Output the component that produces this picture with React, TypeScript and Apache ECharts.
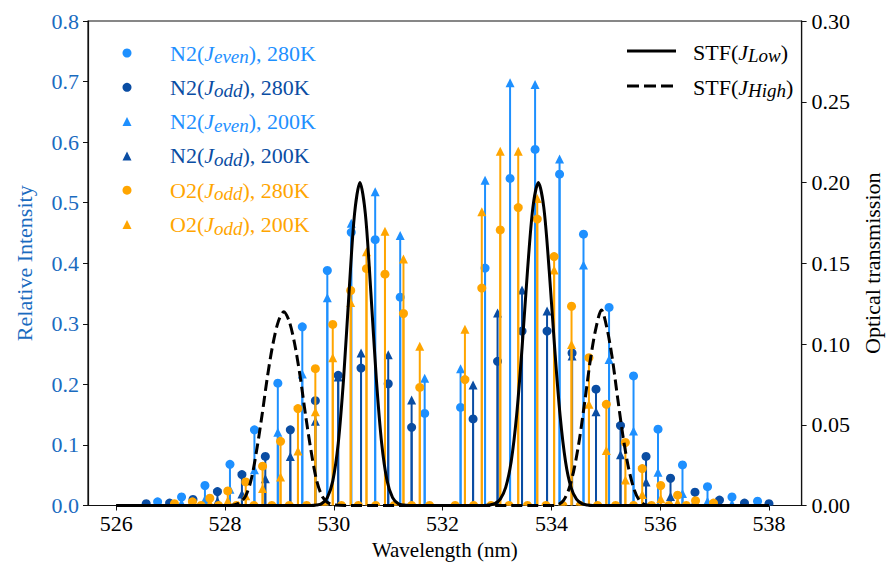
import React, { useEffect, useRef } from 'react';
import * as echarts from 'echarts';

const FONT = 'Liberation Serif';
const C_LIGHT = '#1E90FF';
const C_DARK = '#0A4DA3';
const C_ORANGE = '#FFA500';
const C_AXIS_BLUE = '#1a6bbf';

const xTicks = [526, 528, 530, 532, 534, 536, 538];

// N2, even J  (wavelength nm, 280 K, 200 K)
const n2EvenWl = [526.76, 527.2, 527.63, 528.09, 528.54, 528.97, 529.42, 529.88, 530.32, 530.76, 531.22, 531.67,
  532.33, 532.78, 533.24, 533.7, 534.15, 534.59, 535.06, 535.51, 535.96, 536.41, 536.87, 537.32, 537.79];
const n2Even280 = [0.006, 0.014, 0.033, 0.068, 0.125, 0.202, 0.295, 0.388, 0.451, 0.439, 0.344, 0.152,
  0.162, 0.392, 0.54, 0.588, 0.547, 0.448, 0.327, 0.214, 0.126, 0.067, 0.031, 0.014, 0.007];
const n2Even200 = [0.001, 0.004, 0.01, 0.027, 0.059, 0.121, 0.217, 0.343, 0.466, 0.518, 0.446, 0.21,
  0.226, 0.537, 0.698, 0.695, 0.572, 0.397, 0.241, 0.123, 0.055, 0.02, 0.007, 0.003, 0.001];

// N2, odd J
const n2OddWl = [526.55, 526.98, 527.41, 527.86, 528.31, 528.74, 529.2, 529.66, 530.08, 530.5, 531.0, 531.43,
  532.56, 533.01, 533.46, 533.92, 534.38, 534.82, 535.27, 535.74, 536.19, 536.64, 537.09, 537.55, 538.0];
const n2Odd280 = [0.003, 0.004, 0.01, 0.023, 0.051, 0.081, 0.125, 0.173, 0.215, 0.227, 0.201, 0.129,
  0.143, 0.238, 0.288, 0.288, 0.252, 0.192, 0.132, 0.081, 0.045, 0.022, 0.009, 0.004, 0.003];
const n2Odd200 = [0.0, 0.001, 0.002, 0.007, 0.019, 0.044, 0.081, 0.139, 0.212, 0.252, 0.249, 0.174,
  0.199, 0.318, 0.356, 0.321, 0.247, 0.155, 0.084, 0.039, 0.015, 0.007, 0.002, 0.001, 0.0];

// O2 (odd J lines; even J positions carry zero intensity)
const o2Wl = [527.07, 527.4, 527.56, 527.72, 527.88, 528.05, 528.21, 528.38, 528.53, 528.69, 528.86, 529.02, 529.18,
  529.34, 529.5, 529.66, 529.82, 529.98, 530.14, 530.31, 530.45, 530.6, 530.77, 530.94, 531.11, 531.28, 531.43,
  531.58, 531.76, 532.23, 532.41, 532.57, 532.72, 532.89, 533.06, 533.22, 533.39, 533.56, 533.74, 533.9, 534.05,
  534.21, 534.37, 534.53, 534.69, 534.85, 535.01, 535.18, 535.36, 535.51, 535.67, 535.84, 536.01, 536.16, 536.32,
  536.48, 536.65, 536.98];
const o2Val280 = [0.003, 0.006, 0, 0.012, 0, 0.024, 0, 0.039, 0, 0.065, 0, 0.106, 0,
  0.16, 0, 0.226, 0, 0.299, 0, 0.355, 0, 0.391, 0, 0.382, 0, 0.317, 0,
  0.195, 0, 0, 0.208, 0, 0.359, 0, 0.455, 0, 0.492, 0, 0.473, 0, 0.411,
  0, 0.329, 0, 0.244, 0, 0.167, 0, 0.104, 0, 0.061, 0, 0.033, 0, 0.017,
  0, 0.008, 0.004];
const o2Val200 = [0.001, 0.002, 0, 0.004, 0, 0.008, 0, 0.016, 0, 0.028, 0, 0.047, 0,
  0.09, 0, 0.155, 0, 0.244, 0, 0.335, 0, 0.419, 0, 0.453, 0, 0.407, 0,
  0.263, 0, 0, 0.291, 0, 0.485, 0, 0.585, 0, 0.585, 0, 0.507, 0, 0.389,
  0, 0.266, 0, 0.167, 0, 0.091, 0, 0.042, 0, 0.018, 0, 0.011, 0, 0.005,
  0, 0.002, 0.001];

// Spectral transmission functions (right axis)
const stfLowWl = [526.0, 529.4, 529.58, 529.68, 529.78, 529.88, 529.98, 530.08, 530.18, 530.28, 530.38, 530.48,
  530.58, 530.68, 530.78, 530.88, 530.98, 531.08, 531.18, 531.28, 531.38, 531.6, 532.6, 532.76, 532.86, 532.96,
  533.06, 533.16, 533.26, 533.36, 533.46, 533.56, 533.66, 533.76, 533.86, 533.96, 534.06, 534.16, 534.26, 534.36,
  534.46, 534.56, 534.66, 534.76, 535.0, 538.0];
const stfLowVal = [0, 0, 0, 0.0003, 0.0013, 0.0049, 0.0151, 0.0383, 0.0789, 0.1323, 0.1804, 0.2,
  0.1804, 0.1323, 0.0789, 0.0383, 0.0151, 0.0049, 0.0013, 0.0003, 0, 0, 0, 0, 0.0003, 0.0012,
  0.004, 0.0112, 0.0271, 0.0556, 0.0974, 0.1452, 0.1846, 0.2, 0.1846, 0.1452, 0.0974, 0.0556, 0.0271, 0.0112,
  0.004, 0.0012, 0.0003, 0, 0, 0];
const stfHighWl = [526.0, 527.9, 528.08, 528.18, 528.28, 528.38, 528.48, 528.58, 528.68, 528.78, 528.88, 528.98,
  529.08, 529.18, 529.28, 529.38, 529.48, 529.58, 529.68, 529.78, 529.88, 529.98, 530.2, 533.8, 534.02, 534.12,
  534.22, 534.32, 534.42, 534.52, 534.62, 534.72, 534.82, 534.92, 535.02, 535.12, 535.22, 535.32, 535.42, 535.52,
  535.62, 535.72, 535.82, 536.0, 538.0];
const stfHighVal = [0, 0, 0, 0.0005, 0.002, 0.006, 0.016, 0.034, 0.056, 0.08, 0.1, 0.114,
  0.12, 0.114, 0.1, 0.08, 0.056, 0.034, 0.016, 0.006, 0.002, 0.0005, 0, 0, 0, 0.0005,
  0.003, 0.01, 0.023, 0.042, 0.066, 0.091, 0.11, 0.121, 0.11, 0.091, 0.066, 0.042, 0.023, 0.01,
  0.003, 0.0005, 0, 0, 0];

function stemSeries(name: string, wl: number[], vals: number[], color: string, marker: 'circle' | 'triangle') {
  return {
    type: 'custom',
    name,
    xAxisIndex: 0,
    yAxisIndex: 0,
    clip: true,
    data: wl.map((w, i) => [w, vals[i]]),
    encode: { x: 0, y: 1 },
    renderItem: (params: any, api: any) => {
      const w = api.value(0);
      const v = api.value(1);
      const base = api.coord([w, 0]);
      const top = api.coord([w, v]);
      const children: any[] = [
        {
          type: 'line',
          shape: { x1: base[0], y1: base[1], x2: top[0], y2: top[1] },
          style: { stroke: color, lineWidth: 2 },
        },
      ];
      if (marker === 'circle') {
        children.push({ type: 'circle', shape: { cx: top[0], cy: top[1], r: 4.5 }, style: { fill: color } });
      } else {
        const s = 4.5;
        children.push({
          type: 'polygon',
          shape: { points: [[top[0], top[1] - s], [top[0] - s, top[1] + s], [top[0] + s, top[1] + s]] },
          style: { fill: color },
        });
      }
      return { type: 'group', children };
    },
  };
}

function richLabel(color: string, size = 22, sub = 19) {
  return {
    n: { fontFamily: FONT, fontSize: size, fill: color, lineHeight: 26, verticalAlign: 'middle' },
    j: { fontFamily: FONT, fontSize: size, fontStyle: 'italic', fill: color, lineHeight: 26, verticalAlign: 'middle' },
    s: { fontFamily: FONT, fontSize: sub, fontStyle: 'italic', fill: color, lineHeight: 15, verticalAlign: 'bottom' },
  };
}

const legendLeft = [
  { text: '{n|N2(}{j|J}{s|even}{n|), 280K}', color: C_LIGHT, marker: 'circle' },
  { text: '{n|N2(}{j|J}{s|odd}{n|), 280K}', color: C_DARK, marker: 'circle' },
  { text: '{n|N2(}{j|J}{s|even}{n|), 200K}', color: C_LIGHT, marker: 'triangle' },
  { text: '{n|N2(}{j|J}{s|odd}{n|), 200K}', color: C_DARK, marker: 'triangle' },
  { text: '{n|O2(}{j|J}{s|odd}{n|), 280K}', color: C_ORANGE, marker: 'circle' },
  { text: '{n|O2(}{j|J}{s|odd}{n|), 200K}', color: C_ORANGE, marker: 'triangle' },
];
const legendRight = [
  { text: '{n|STF(}{j|J}{s|Low}{n|)}', dash: false },
  { text: '{n|STF(}{j|J}{s|High}{n|)}', dash: true },
];

export default function App() {
  const ref = useRef<HTMLDivElement>(null);
  useEffect(() => {
    if (!ref.current) return;
    const chart = echarts.init(ref.current, undefined, { renderer: 'svg' });

    const graphics: any[] = [];
    legendLeft.forEach((row, i) => {
      const cy = 53 + i * 34.3;
      if (row.marker === 'circle') {
        graphics.push({ type: 'circle', shape: { cx: 127, cy, r: 4.5 }, style: { fill: row.color }, z: 100 });
      } else {
        graphics.push({
          type: 'polygon',
          shape: { points: [[127, cy - 4.5], [122.5, cy + 4.5], [131.5, cy + 4.5]] },
          style: { fill: row.color },
          z: 100,
        });
      }
      graphics.push({
        type: 'text',
        x: 170,
        y: cy,
        z: 100,
        style: { text: row.text, rich: richLabel(row.color), verticalAlign: 'middle', align: 'left' },
      });
    });
    legendRight.forEach((row, i) => {
      const cy = 51 + i * 35;
      graphics.push({
        type: 'line',
        shape: { x1: 627, y1: cy, x2: 676, y2: cy },
        style: { stroke: '#000', lineWidth: 3, lineDash: row.dash ? [12, 5] : null },
        z: 100,
      });
      graphics.push({
        type: 'text',
        x: 693,
        y: cy + 1,
        z: 100,
        style: { text: row.text, rich: richLabel('#000'), verticalAlign: 'middle', align: 'left' },
      });
    });

    const option: any = {
      animation: false,
      backgroundColor: '#fff',
      textStyle: { fontFamily: FONT },
      grid: { left: 88, right: 78, top: 21, bottom: 60.5, show: true, borderColor: '#111', borderWidth: 1.2, containLabel: false },
      xAxis: {
        type: 'value',
        min: 525.48,
        max: 538.6,
        name: 'Wavelength (nm)',
        nameLocation: 'middle',
        nameGap: 33,
        nameTextStyle: { fontFamily: FONT, fontSize: 21, color: '#000' },
        axisLine: { show: true, lineStyle: { color: '#111', width: 1.2 } },
        axisTick: { show: true, inside: false, length: 5, customValues: xTicks, lineStyle: { color: '#111' } },
        axisLabel: { customValues: xTicks, fontFamily: FONT, fontSize: 22, color: '#000', margin: 7, formatter: (v: number) => String(v) },
        splitLine: { show: false },
      },
      yAxis: [
        {
          type: 'value',
          min: 0,
          max: 0.8,
          interval: 0.1,
          position: 'left',
          name: 'Relative Intensity',
          nameLocation: 'middle',
          nameRotate: 90,
          nameGap: 53,
          nameTextStyle: { fontFamily: FONT, fontSize: 22, color: C_AXIS_BLUE },
          axisLine: { show: true, lineStyle: { color: '#111', width: 1.2 } },
          axisTick: { show: true, inside: false, length: 5, lineStyle: { color: '#111' } },
          axisLabel: { fontFamily: FONT, fontSize: 22, color: C_AXIS_BLUE, margin: 9, formatter: (v: number) => v.toFixed(1) },
          splitLine: { show: false },
        },
        {
          type: 'value',
          min: 0,
          max: 0.3,
          interval: 0.05,
          position: 'right',
          name: 'Optical transmission',
          nameLocation: 'middle',
          nameRotate: 90,
          nameGap: 55,
          nameTextStyle: { fontFamily: FONT, fontSize: 22, color: '#000' },
          axisLine: { show: true, lineStyle: { color: '#111', width: 1.2 } },
          axisTick: { show: true, inside: false, length: 5, lineStyle: { color: '#111' } },
          axisLabel: { fontFamily: FONT, fontSize: 22, color: '#000', margin: 10, formatter: (v: number) => v.toFixed(2) },
          splitLine: { show: false },
        },
      ],
      graphic: graphics,
      series: [
        stemSeries('N2(Jeven), 280K', n2EvenWl, n2Even280, C_LIGHT, 'circle'),
        stemSeries('N2(Jodd), 280K', n2OddWl, n2Odd280, C_DARK, 'circle'),
        stemSeries('N2(Jeven), 200K', n2EvenWl, n2Even200, C_LIGHT, 'triangle'),
        stemSeries('N2(Jodd), 200K', n2OddWl, n2Odd200, C_DARK, 'triangle'),
        stemSeries('O2(Jodd), 280K', o2Wl, o2Val280, C_ORANGE, 'circle'),
        stemSeries('O2(Jodd), 200K', o2Wl, o2Val200, C_ORANGE, 'triangle'),
        {
          type: 'line',
          name: 'STF(JLow)',
          yAxisIndex: 1,
          data: stfLowWl.map((w, i) => [w, stfLowVal[i]]),
          showSymbol: false,
          symbol: 'none',
          smooth: 0.3,
          clip: true,
          z: 10,
          lineStyle: { color: '#000', width: 3 },
        },
        {
          type: 'line',
          name: 'STF(JHigh)',
          yAxisIndex: 1,
          data: stfHighWl.map((w, i) => [w, stfHighVal[i]]),
          showSymbol: false,
          symbol: 'none',
          smooth: 0.3,
          clip: true,
          z: 10,
          lineStyle: { color: '#000', width: 3, type: [11, 5] },
        },
      ],
    };
    chart.setOption(option);
    return () => chart.dispose();
  }, []);
  return <div ref={ref} style={{ position: 'fixed', left: 0, top: 0, width: 891, height: 566, background: '#fff' }} />;
}
